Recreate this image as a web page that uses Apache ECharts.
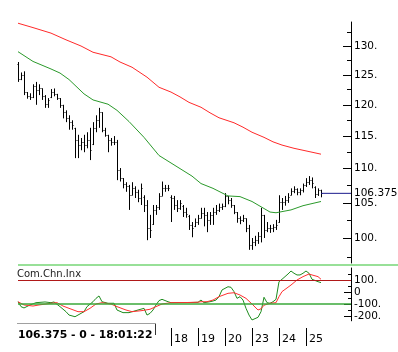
<!DOCTYPE html>
<html>
<head>
<meta charset="UTF-8">
<title>Com.Chn.Inx</title>
<script src="https://cdn.jsdelivr.net/npm/echarts@6.0.0/dist/echarts.min.js"></script>
<style>
	html, body { margin: 0; padding: 0; background: #fff; }
	#main { width: 398px; height: 352px; }
</style>
</head>
<body>
<div id="main"></div>
<script>
// price bars, one per slot (x index)
var opens = [126.8,124.3,125.0,122.1,121.4,121.3,123.1,122.4,122.7,121.4,
	120.1,121.2,122.1,121.8,121.1,120.0,118.8,117.8,117.2,116.2,
	114.4,113.6,114.1,113.6,114.4,113.8,116.3,117.5,118.8,116.0,
	115.2,114.4,114.1,114.1,109.8,108.6,107.8,107.4,106.1,107.1,
	106.5,105.7,105.9,104.7,101.5,102.0,104.0,104.4,106.0,107.1,
	107.1,105.9,105.7,104.7,104.3,104.6,103.7,103.2,101.9,101.7,
	102.3,102.8,103.5,103.3,102.6,103.3,103.7,104.0,104.4,104.6,
	106.0,105.4,104.7,103.7,102.8,102.6,102.8,101.5,99.1,99.6,
	99.8,100.4,103.3,101.2,101.5,101.5,101.6,102.3,105.1,105.1,
	105.4,106.2,106.7,107.0,106.5,106.9,107.6,108.1,108.3,107.3,
	106.3,106.9];
var highs = [127.2,125.4,125.6,122.1,121.9,123.4,123.8,123.4,122.7,121.6,
	121.1,122.6,122.7,121.8,121.1,120.0,119.1,118.3,117.5,116.3,
	115.2,114.7,115.2,115.6,116.3,117.2,118.3,119.5,118.8,116.3,
	115.2,114.7,115.0,114.4,110.1,108.6,108.0,107.6,108.0,107.4,
	106.9,107.8,106.1,105.4,103.3,104.7,104.7,106.4,108.1,107.6,
	107.6,106.1,106.0,105.4,105.4,104.7,104.3,103.3,102.3,102.8,
	103.3,104.3,104.3,103.7,103.7,104.3,104.7,104.9,104.9,106.4,
	106.0,105.7,104.7,103.7,103.1,103.3,102.8,101.9,100.1,100.4,
	100.9,104.3,103.3,102.3,101.9,102.0,102.6,106.1,105.7,106.0,
	106.4,107.1,107.4,107.1,107.1,107.8,108.6,108.9,108.7,107.4,
	107.1,106.9];
var lows = [123.8,124.1,121.6,121.0,120.8,121.1,120.0,121.6,120.8,119.5,
	119.5,121.1,121.4,120.8,119.5,117.8,117.2,116.0,116.0,111.6,
	111.6,112.8,112.5,113.1,111.3,113.6,115.6,116.3,115.6,114.9,
	112.5,113.5,113.6,108.3,108.1,107.1,106.6,104.0,106.1,105.7,
	105.1,104.7,103.7,99.8,100.1,101.9,103.3,104.0,106.0,106.6,
	106.7,102.3,104.0,103.7,104.0,103.0,102.9,101.2,100.2,101.6,
	101.9,102.8,101.7,100.9,101.9,101.9,103.3,103.7,104.0,104.4,
	104.8,104.3,103.4,102.2,102.0,102.3,100.9,98.5,98.5,99.0,
	99.3,99.5,100.1,100.9,100.8,100.9,101.2,102.2,104.0,104.6,
	105.0,106.1,106.4,106.1,106.1,106.5,107.3,107.6,107.1,105.7,
	106.0,105.8];
var closes = [124.3,125.0,122.1,121.4,121.3,123.1,122.4,122.7,121.4,120.1,
	120.8,122.1,121.8,121.1,120.0,118.8,117.8,117.2,116.7,114.4,
	113.6,114.1,113.6,114.4,112.8,116.3,117.5,118.8,116.0,115.2,
	114.4,114.1,114.1,109.8,108.6,107.8,107.4,106.1,107.1,106.5,
	105.7,107.1,104.7,101.5,101.2,104.0,104.4,106.0,107.1,107.1,
	107.1,105.7,104.7,104.3,105.0,103.7,103.4,101.9,101.5,102.3,
	102.8,103.5,103.3,102.6,103.3,103.7,104.0,104.4,104.6,106.0,
	105.4,104.7,103.7,102.8,102.6,102.8,101.5,99.1,99.6,99.8,
	100.4,103.3,101.2,101.5,101.5,101.6,101.9,105.1,105.1,105.4,
	105.8,106.7,107.0,106.5,106.9,107.6,108.1,108.3,107.9,106.3,
	106.9,106.375];

// moving averages, [slot, value]
var redMA = [[0,134.1],[5,133.3],[11,132.3],[16,131.1],[21,130.0],[25,128.9],[31,128.1],
	[34,127.2],[38,126.3],[43,124.6],[47,122.9],[51,122.1],[54,121.3],[57,120.4],[61,119.6],
	[64,118.7],[67,117.9],[72,117.1],[75,116.4],[78,115.6],[82,114.8],[85,114.1],[88,113.6],
	[92,113.1],[95,112.8],[98,112.5],[101,112.2]];
var greenMA = [[0,129.0],[5,127.3],[11,126.0],[14,125.3],[17,124.2],[22,121.8],[25,120.8],
	[30,120.1],[33,119.1],[37,117.3],[42,114.8],[47,112.0],[53,110.3],[58,108.9],[61,107.8],
	[65,107.1],[70,106.0],[74,105.9],[78,105.2],[82,104.2],[84,103.7],[86,103.6],[91,104.0],
	[95,104.6],[98,104.9],[101,105.2]];

// indicator panel
var cciLine = [[0,-81],[1,-122],[2,-133],[4,-108],[6,-89],[9,-83],[11,-89],[12,-83],[14,-122],
	[16,-164],[17,-192],[19,-206],[21,-178],[22,-164],[23,-122],[25,-81],[26,-53],[27,-33],
	[28,-81],[30,-94],[32,-94],[33,-150],[35,-172],[37,-172],[40,-150],[42,-136],[43,-192],
	[44,-178],[45,-150],[46,-108],[47,-72],[48,-61],[50,-81],[51,-89],[54,-88],[57,-88],
	[60,-86],[61,-67],[62,-89],[64,-81],[65,-75],[66,-67],[67,-39],[68,17],[70,44],[71,39],
	[72,3],[73,-53],[74,-39],[75,-67],[76,-136],[77,-192],[78,-233],[80,-211],[81,-164],
	[82,-44],[83,-89],[84,-94],[85,-81],[86,-61],[87,86],[88,106],[90,150],[91,175],[92,156],
	[93,142],[94,142],[95,156],[96,175],[97,156],[98,106],[100,86],[101,78]];
var signalLine = [[0,-81],[2,-108],[5,-117],[7,-108],[11,-94],[13,-89],[15,-117],[17,-136],
	[20,-164],[22,-164],[24,-136],[26,-100],[28,-89],[31,-100],[33,-122],[36,-150],[38,-164],
	[41,-156],[44,-144],[46,-122],[48,-100],[51,-89],[56,-88],[60,-85],[61,-81],[63,-81],
	[65,-67],[67,-39],[70,-11],[72,-6],[74,-25],[76,-53],[78,-100],[80,-150],[81,-140],
	[82,-110],[84,-94],[86,-89],[87,-39],[88,3],[91,58],[93,100],[95,128],[97,150],[98,142],
	[100,128],[101,106]];

var dayLabels = ['18', '19', '20', '23', '24', '25'];
var dayStart = [51, 60, 69, 78, 87, 96];
var priceTicks = [100, 105, 110, 115, 120, 125, 130];
var priceMinor = [97.5, 102.5, 107.5, 112.5, 117.5, 122.5, 127.5, 132.5];
var cciTicks = [-200, -100, 0, 100];
var cciMinor = [-150, -50, 50, 150];
var lastPrice = 106.375;
var statusText = '106.375 - 0 - 18:01:22';

var slots = 112;
var categories = [];
for(var i = 0; i < slots; i++) {
	categories.push(String(i));
}
var bars = closes.map(function(c, i) {
	return [i, opens[i], highs[i], lows[i], c];
});

var font = 'DejaVu Sans';
var isDay = function(index) {
	return dayStart.indexOf(index) >= 0;
};

// OHLC bar: high-low stem, open tick left, close tick right
function renderBar(params, api) {
	var i = api.value(0);
	var x = Math.round(api.coord([i, api.value(2)])[0]) + 0.5;
	var yo = Math.round(api.coord([i, api.value(1)])[1]) + 0.5;
	var yh = api.coord([i, api.value(2)])[1];
	var yl = api.coord([i, api.value(3)])[1];
	var yc = Math.round(api.coord([i, api.value(4)])[1]) + 0.5;
	var st = { stroke: '#000', lineWidth: 1 };
	return {
		type: 'group',
		children: [
			{ type: 'line', shape: { x1: x, y1: yh, x2: x, y2: yl }, style: st },
			{ type: 'line', shape: { x1: x - 1, y1: yo, x2: x, y2: yo }, style: st },
			{ type: 'line', shape: { x1: x, y1: yc, x2: x + 1, y2: yc }, style: st }
		]
	};
}

var myChart = echarts.init(document.getElementById('main'));

var hiddenX = function(g) {
	return { gridIndex: g, type: 'category', data: categories, boundaryGap: false, show: false };
};

var option = {
	animation: false,
	backgroundColor: '#fff',
	title: {
		text: 'Com.Chn.Inx',
		left: 17,
		top: 269,
		padding: 0,
		textStyle: { fontSize: 10, fontWeight: 'normal', color: '#222', fontFamily: font }
	},
	grid: [
		{ left: 18, right: 47, top: 22, height: 241 },
		{ left: 18, right: 47, top: 268, height: 52.8 },
		{ left: 18, right: 47, top: 326, height: 20 }
	],
	xAxis: [hiddenX(0), hiddenX(1), {
		gridIndex: 2,
		type: 'category',
		data: categories,
		boundaryGap: false,
		axisLine: { show: false },
		axisTick: { show: true, inside: true, length: 18, interval: isDay, lineStyle: { color: '#000' } },
		axisLabel: {
			inside: true,
			interval: isDay,
			margin: 1,
			align: 'left',
			padding: [0, 0, 0, 3],
			fontSize: 11,
			fontFamily: font,
			color: '#000',
			formatter: function(v) {
				return dayLabels[dayStart.indexOf(+v)];
			}
		},
		splitLine: { show: false }
	}],
	yAxis: [{
		gridIndex: 0,
		type: 'log',
		position: 'right',
		min: 96.75,
		max: 134.32,
		axisLine: { show: true, lineStyle: { color: '#000' } },
		axisTick: { show: true, inside: true, length: 8, customValues: priceTicks, lineStyle: { color: '#000' } },
		axisLabel: {
			customValues: priceTicks,
			margin: 3,
			fontSize: 10.5,
			fontFamily: font,
			color: '#000',
			formatter: function(v) {
				return Math.round(v) + '.';
			}
		},
		splitLine: { show: false }
	}, {
		gridIndex: 0,
		type: 'log',
		position: 'right',
		min: 96.75,
		max: 134.32,
		axisLine: { show: false },
		axisTick: { show: true, inside: true, length: 4, customValues: priceMinor, lineStyle: { color: '#000' } },
		axisLabel: { show: false },
		splitLine: { show: false }
	}, {
		gridIndex: 1,
		type: 'value',
		position: 'right',
		min: -240,
		max: 200,
		axisLine: { show: true, lineStyle: { color: '#000' } },
		axisTick: { show: true, inside: true, length: 7, customValues: cciTicks, lineStyle: { color: '#000' } },
		axisLabel: {
			customValues: cciTicks,
			margin: 3,
			fontSize: 10.5,
			fontFamily: font,
			color: '#000',
			formatter: function(v) {
				return v === 0 ? '0' : v + '.';
			}
		},
		splitLine: { show: false }
	}, {
		gridIndex: 1,
		type: 'value',
		position: 'right',
		min: -240,
		max: 200,
		axisLine: { show: false },
		axisTick: { show: true, inside: true, length: 3, customValues: cciMinor, lineStyle: { color: '#000' } },
		axisLabel: { show: false },
		splitLine: { show: false }
	}, {
		gridIndex: 2,
		type: 'value',
		show: false
	}],
	graphic: [
		{ type: 'line', shape: { x1: 18, y1: 265, x2: 398, y2: 265 }, style: { stroke: '#98e098', lineWidth: 2 }, silent: true },
		{ type: 'line', shape: { x1: 17, y1: 323.5, x2: 156, y2: 323.5 }, style: { stroke: '#a0a0a0', lineWidth: 1 }, silent: true },
		{ type: 'line', shape: { x1: 155.5, y1: 324, x2: 155.5, y2: 335 }, style: { stroke: '#333', lineWidth: 1 }, silent: true },
		{
			type: 'text',
			left: 18,
			top: 330,
			style: { text: statusText, fontSize: 10.8, fontWeight: 'bold', fontFamily: font, fill: '#000' },
			silent: true
		}
	],
	series: [{
		name: 'price',
		type: 'custom',
		xAxisIndex: 0,
		yAxisIndex: 0,
		renderItem: renderBar,
		encode: { x: 0, y: [1, 2, 3, 4] },
		data: bars,
		z: 3
	}, {
		name: 'ma long',
		type: 'line',
		xAxisIndex: 0,
		yAxisIndex: 0,
		data: redMA,
		symbol: 'none',
		lineStyle: { color: '#ff2a2a', width: 1 }
	}, {
		name: 'ma short',
		type: 'line',
		xAxisIndex: 0,
		yAxisIndex: 0,
		data: greenMA,
		symbol: 'none',
		lineStyle: { color: '#2b9a2b', width: 1 }
	}, {
		name: 'last',
		type: 'line',
		xAxisIndex: 0,
		yAxisIndex: 0,
		data: [[101, lastPrice], [111, lastPrice]],
		symbol: 'none',
		lineStyle: { color: '#1a1a8c', width: 1 },
		endLabel: {
			show: true,
			distance: 3,
			fontSize: 10.5,
			fontFamily: font,
			color: '#000',
			formatter: function() {
				return String(lastPrice);
			}
		}
	}, {
		name: 'cci',
		type: 'line',
		xAxisIndex: 1,
		yAxisIndex: 2,
		data: cciLine,
		symbol: 'none',
		lineStyle: { color: '#1e8c1e', width: 1 },
		markLine: {
			silent: true,
			symbol: 'none',
			label: { show: false },
			data: [
				{ yAxis: 100, lineStyle: { color: '#b01818', type: 'solid', width: 1 } },
				{ yAxis: -100, lineStyle: { color: '#3aa83a', type: 'solid', width: 1.5 } }
			]
		}
	}, {
		name: 'signal',
		type: 'line',
		xAxisIndex: 1,
		yAxisIndex: 2,
		data: signalLine,
		symbol: 'none',
		lineStyle: { color: '#ff3030', width: 1 },
		z: 3
	}]
};

myChart.setOption(option);
</script>
</body>
</html>
